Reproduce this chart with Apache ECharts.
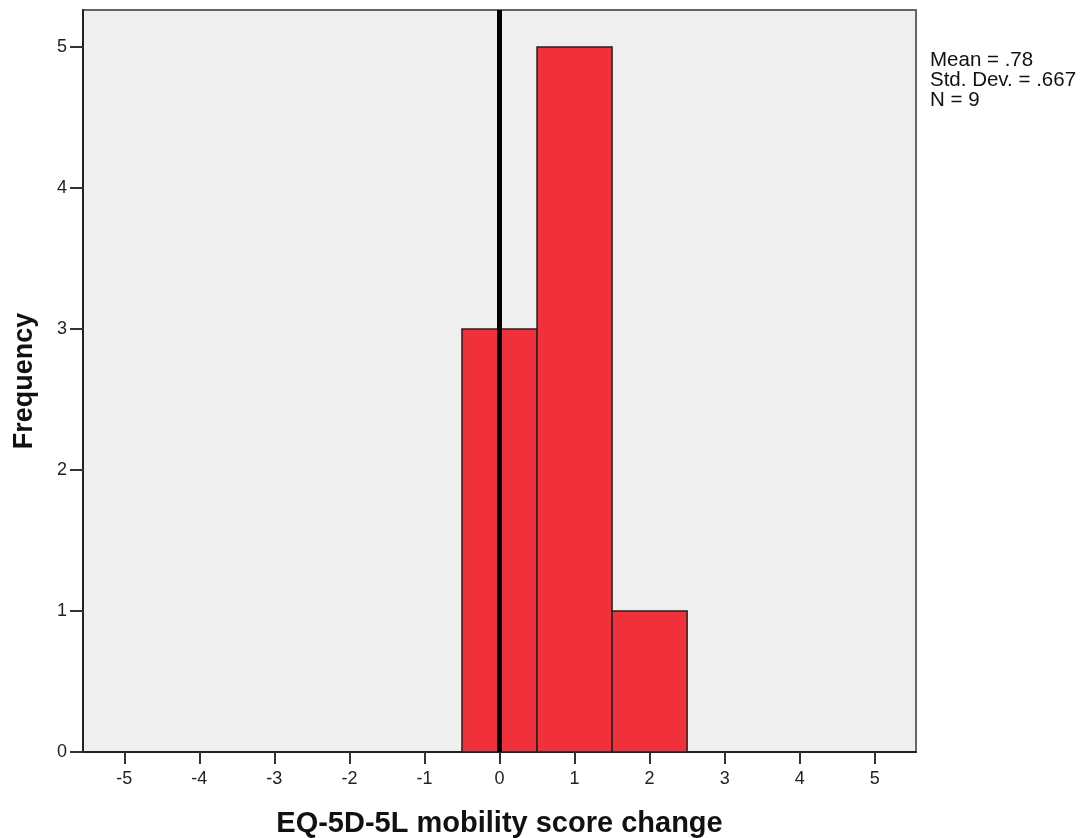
<!DOCTYPE html>
<html>
<head>
<meta charset="utf-8">
<script src="https://cdn.jsdelivr.net/npm/echarts@6/dist/echarts.min.js"></script>
<style>html,body{margin:0;padding:0;background:#fff}#c{width:1087px;height:838px}</style>
</head>
<body>
<div id="c"></div>
<script>
const binStarts = [-0.5, 0.5, 1.5];
const binEnds = [0.5, 1.5, 2.5];
const frequencies = [3, 5, 1];
const xTicks = [-5, -4, -3, -2, -1, 0, 1, 2, 3, 4, 5];
const yTicks = [0, 1, 2, 3, 4, 5];
const referenceLineX = [0];
const statsLines = ['Mean = .78', 'Std. Dev. = .667', 'N = 9'];
const xAxisTitle = 'EQ-5D-5L mobility score change';
const yAxisTitle = 'Frequency';

const font = '"Liberation Sans", Arial, sans-serif';
const chart = echarts.init(document.getElementById('c'));
const barData = binStarts.map((s, i) => [s, binEnds[i], frequencies[i]]);

chart.setOption({
  animation: false,
  grid: {left: 83, right: 171, top: 10, bottom: 86, show: true, containLabel: false,
         outerBoundsMode: 'none',
         backgroundColor: '#efefef', borderColor: '#666', borderWidth: 2},
  xAxis: {
    type: 'value', min: -5.55, max: 5.55,
    name: xAxisTitle, nameLocation: 'middle', nameGap: 57,
    nameTextStyle: {fontFamily: font, fontWeight: 'bold', fontSize: 29, color: '#111'},
    axisLine: {show: true, onZero: false, lineStyle: {color: '#222', width: 2}},
    axisTick: {show: true, length: 12, customValues: xTicks, lineStyle: {color: '#333', width: 2}},
    axisLabel: {customValues: xTicks, fontFamily: font, fontSize: 18, color: '#222', margin: 18},
    splitLine: {show: false}
  },
  yAxis: {
    type: 'value', min: 0, max: 5.262,
    name: yAxisTitle, nameLocation: 'middle', nameGap: 45, nameRotate: 90,
    nameTextStyle: {fontFamily: font, fontWeight: 'bold', fontSize: 27, color: '#111'},
    axisLine: {show: true, onZero: false, lineStyle: {color: '#222', width: 2}},
    axisTick: {show: true, length: 13, customValues: yTicks, lineStyle: {color: '#333', width: 2}},
    axisLabel: {customValues: yTicks, fontFamily: font, fontSize: 18, color: '#222', margin: 16},
    splitLine: {show: false}
  },
  series: [{
    type: 'custom',
    data: barData,
    encode: {x: [0, 1], y: 2},
    renderItem: function (params, api) {
      const p0 = api.coord([api.value(0), api.value(2)]);
      const p1 = api.coord([api.value(1), 0]);
      return {
        type: 'rect',
        shape: {x: p0[0], y: p0[1], width: p1[0] - p0[0], height: p1[1] - p0[1]},
        style: {fill: '#f0313b', stroke: '#222', lineWidth: 1.5}
      };
    },
    markLine: {
      silent: true, symbol: 'none', label: {show: false},
      lineStyle: {color: '#000', width: 5, type: 'solid'},
      data: referenceLineX.map(v => ({xAxis: v}))
    },
    z: 2
  }],
  graphic: [{
    type: 'text', left: 930, top: 50,
    style: {text: statsLines.join('\n'), font: '20.5px ' + font, fill: '#111', lineHeight: 20}
  }]
});
</script>
</body>
</html>
